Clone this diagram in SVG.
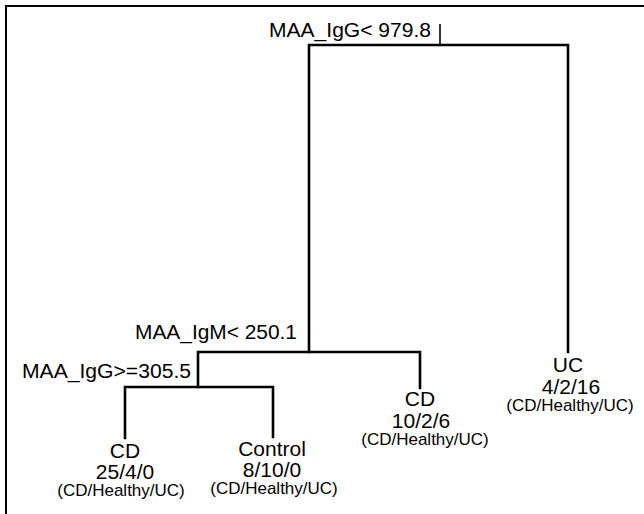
<svg xmlns="http://www.w3.org/2000/svg" width="644" height="514" viewBox="0 0 644 514">
<style>
.bg{fill:#fff}
.frame{fill:none;stroke:#000;stroke-width:2}
.edge{fill:none;stroke:#000;stroke-width:2.6;stroke-linecap:square}
.tick{fill:none;stroke:#000;stroke-width:1.6}
text{font-family:"Liberation Sans",Arial,sans-serif;fill:#000}
.split{font-size:19.5px;text-anchor:end}
.cls{font-size:21px;text-anchor:middle}
.num{font-size:21px;text-anchor:middle}
.sub{font-size:17px;text-anchor:middle}
</style>
<rect class="bg" x="0" y="0" width="644" height="514"/>
<path class="frame" d="M6,514 V6 H644"/>
<g id="connectors">
<path class="tick" d="M440,24 V44"/>
<path class="edge" d="M309,352 V45 H568 V352"/>
<path class="edge" d="M198,387 V352 H420 V388"/>
<path class="edge" d="M125,438 V387 H273 V437"/>
</g>
<g id="split-root"><text class="split" x="431" y="37" textLength="162" lengthAdjust="spacingAndGlyphs">MAA_IgG&lt; 979.8</text></g>
<g id="split-igm"><text class="split" x="297" y="339" textLength="162" lengthAdjust="spacingAndGlyphs">MAA_IgM&lt; 250.1</text></g>
<g id="split-igg"><text class="split" x="191" y="378" textLength="169" lengthAdjust="spacingAndGlyphs">MAA_IgG&gt;=305.5</text></g>
<g id="leaf-cd1">
<text class="cls" x="125" y="458">CD</text>
<text class="num" x="125" y="479">25/4/0</text>
<text class="sub" x="121" y="496">(CD/Healthy/UC)</text>
</g>
<g id="leaf-control">
<text class="cls" x="272" y="456">Control</text>
<text class="num" x="272" y="477">8/10/0</text>
<text class="sub" x="274" y="494">(CD/Healthy/UC)</text>
</g>
<g id="leaf-cd2">
<text class="cls" x="420" y="406">CD</text>
<text class="num" x="421" y="428">10/2/6</text>
<text class="sub" x="425" y="445">(CD/Healthy/UC)</text>
</g>
<g id="leaf-uc">
<text class="cls" x="568" y="372">UC</text>
<text class="num" x="571" y="394">4/2/16</text>
<text class="sub" x="570" y="411">(CD/Healthy/UC)</text>
</g>
</svg>
